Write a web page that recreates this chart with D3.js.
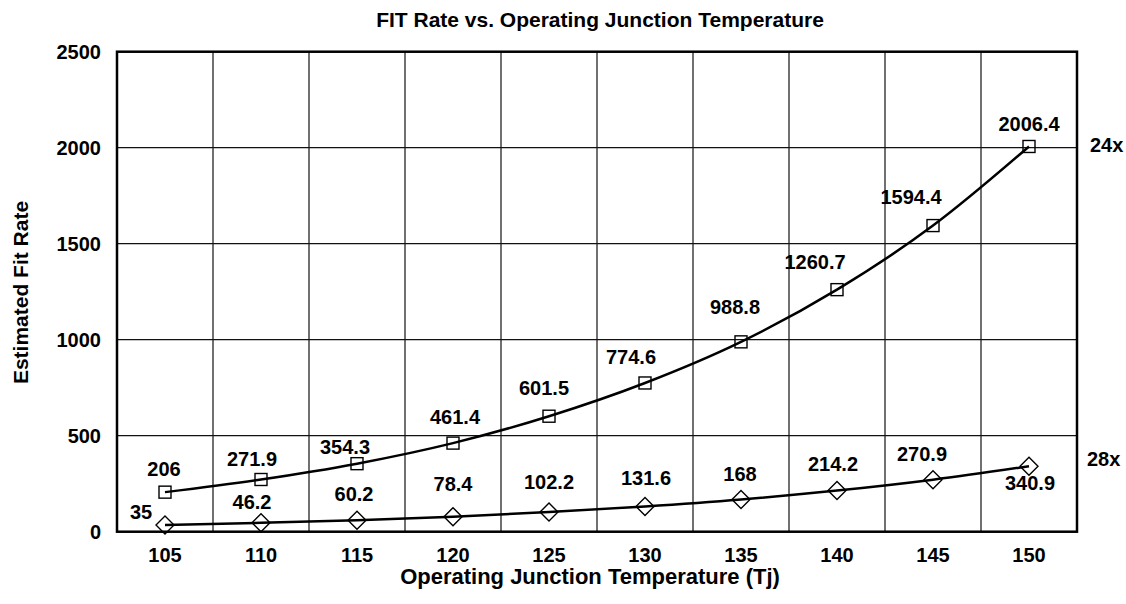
<!DOCTYPE html>
<html>
<head>
<meta charset="utf-8">
<script src="https://cdn.jsdelivr.net/npm/d3@7"></script>
<style>
  body { margin: 0; background: #fff; }
  svg text { font-family: "Liberation Sans", Arial, Helvetica, sans-serif; font-weight: bold; fill: #000; }
</style>
</head>
<body>
<div id="chart"></div>
<script>
// Data
const temps = ["105", "110", "115", "120", "125", "130", "135", "140", "145", "150"];
const fit24 = [206, 271.9, 354.3, 461.4, 601.5, 774.6, 988.8, 1260.7, 1594.4, 2006.4];
const fit28 = [35, 46.2, 60.2, 78.4, 102.2, 131.6, 168, 214.2, 270.9, 340.9];
const yTicks = [0, 500, 1000, 1500, 2000, 2500];

// label nudges (dx, dy of text centre from the marker), layout only
const nudge24 = [[-1,-23],[-9,-21],[-12,-17],[2,-26],[-5,-28],[-14,-26],[-6,-35],[-22,-28],[-22,-29],[0,-23]];
const nudge28 = [[-24,-13],[-9,-21],[-3,-26],[0,-33],[0,-30],[1,-29],[-1,-26],[-4,-27],[-11,-26],[1,17]];

const W = 1126, H = 604;
const margin = {top: 51.7, right: 49, bottom: 72.3, left: 117};
const width = W - margin.left - margin.right;
const height = H - margin.top - margin.bottom;

const svg = d3.select("#chart")
  .append("svg")
    .attr("width", W)
    .attr("height", H);

const g = svg.append("g")
    .attr("transform", `translate(${margin.left},${margin.top})`);

const x = d3.scaleBand()
  .domain(temps)
  .range([0, width]);

const y = d3.scaleLinear()
  .domain([0, 2500])
  .range([height, 0]);

const cx = d => x(d) + x.bandwidth() / 2;

// Horizontal grid lines
g.append("g")
  .selectAll("line")
  .data(yTicks)
  .enter()
  .append("line")
    .attr("x1", 0)
    .attr("x2", width)
    .attr("y1", d => y(d))
    .attr("y2", d => y(d))
    .attr("stroke", "#111")
    .attr("stroke-width", 1.2);

// Vertical grid lines at band boundaries
g.append("g")
  .selectAll("line")
  .data(temps.slice(1))
  .enter()
  .append("line")
    .attr("x1", d => x(d))
    .attr("x2", d => x(d))
    .attr("y1", 0)
    .attr("y2", height)
    .attr("stroke", "#111")
    .attr("stroke-width", 1.2);

// Frame
g.append("rect")
  .attr("width", width)
  .attr("height", height)
  .attr("fill", "none")
  .attr("stroke", "#000")
  .attr("stroke-width", 2.5);

// Y axis labels
const yAxis = g.append("g")
  .call(d3.axisLeft(y).tickValues(yTicks).tickFormat(d3.format("d")).tickSize(0).tickPadding(16));
yAxis.select(".domain").remove();
yAxis.selectAll("text")
  .style("font-size", "20px")
  .attr("font-family", null);

// X axis labels
const xAxis = g.append("g")
  .attr("transform", `translate(0,${height})`)
  .call(d3.axisBottom(x).tickSize(0).tickPadding(16));
xAxis.select(".domain").remove();
xAxis.selectAll("text")
  .style("font-size", "20px")
  .attr("font-family", null);

// Curves
const line = d3.line()
  .x((d, i) => cx(temps[i]))
  .y(d => y(d))
  .curve(d3.curveMonotoneX);

[fit24, fit28].forEach(series => {
  g.append("path")
    .datum(series)
    .attr("fill", "none")
    .attr("stroke", "#000")
    .attr("stroke-width", 2.5)
    .attr("d", line);
});

// Square markers
g.selectAll(".sq")
  .data(fit24)
  .enter()
  .append("rect")
    .attr("class", "sq")
    .attr("x", (d, i) => cx(temps[i]) - 6)
    .attr("y", d => y(d) - 6)
    .attr("width", 12)
    .attr("height", 12)
    .attr("fill", "none")
    .attr("stroke", "#000")
    .attr("stroke-width", 1.4);

// Diamond markers
g.selectAll(".dm")
  .data(fit28)
  .enter()
  .append("path")
    .attr("class", "dm")
    .attr("transform", (d, i) => `translate(${cx(temps[i])},${y(d)})`)
    .attr("d", "M0,-9L9,0L0,9L-9,0Z")
    .attr("fill", "none")
    .attr("stroke", "#000")
    .attr("stroke-width", 1.4);

// Value labels
function addLabels(series, nudge, cls) {
  g.selectAll("." + cls)
    .data(series)
    .enter()
    .append("text")
      .attr("class", cls)
      .attr("x", (d, i) => cx(temps[i]) + nudge[i][0])
      .attr("y", (d, i) => y(d) + nudge[i][1])
      .attr("dy", "0.36em")
      .attr("text-anchor", "middle")
      .style("font-size", "20px")
      .text(d => d);
}
addLabels(fit24, nudge24, "lab24");
addLabels(fit28, nudge28, "lab28");

// Multipliers at the right
svg.append("text")
  .attr("x", 1090)
  .attr("y", margin.top + y(2000) - 3)
  .attr("dy", "0.36em")
  .style("font-size", "20px")
  .text("24x");
svg.append("text")
  .attr("x", 1087)
  .attr("y", margin.top + y(380))
  .attr("dy", "0.36em")
  .style("font-size", "20px")
  .text("28x");

// Title
svg.append("text")
  .attr("x", 600)
  .attr("y", 26.5)
  .attr("text-anchor", "middle")
  .style("font-size", "21px")
  .text("FIT Rate vs. Operating Junction Temperature");

// X axis title
svg.append("text")
  .attr("x", 590)
  .attr("y", 584)
  .attr("text-anchor", "middle")
  .style("font-size", "22px")
  .text("Operating Junction Temperature (Tj)");

// Y axis title
svg.append("text")
  .attr("transform", "translate(28,292.5) rotate(-90)")
  .attr("text-anchor", "middle")
  .style("font-size", "21px")
  .text("Estimated Fit Rate");
</script>
</body>
</html>
